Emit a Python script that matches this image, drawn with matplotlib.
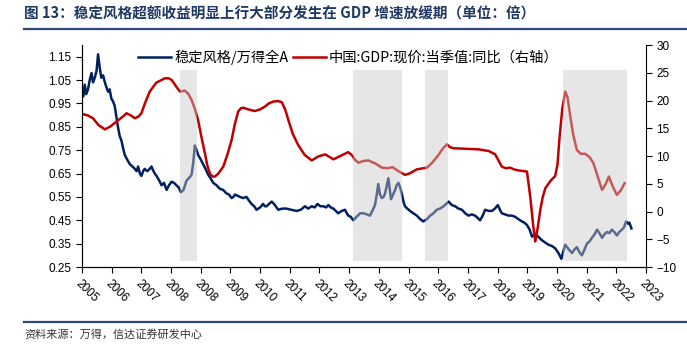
import matplotlib
matplotlib.use("Agg")
import matplotlib.pyplot as plt
import numpy as np

plt.rcParams["font.family"] = ["Noto Sans CJK SC", "DejaVu Sans"]

TITLE = "图 13：稳定风格超额收益明显上行大部分发生在 GDP 增速放缓期（单位：倍）"
SOURCE = "资料来源：万得，信达证券研发中心"

year_labels = ["2005", "2006", "2007", "2008", "2008", "2009", "2010", "2011",
               "2012", "2013", "2014", "2015", "2016", "2017", "2018", "2019",
               "2020", "2021", "2022", "2023"]

# x positions are in units of one date-axis tick interval
style_t = [0.00, 0.04, 0.09, 0.14, 0.20, 0.26, 0.32, 0.37, 0.43, 0.49,
           0.54, 0.60, 0.65, 0.71, 0.77, 0.82, 0.88, 0.93, 0.99, 1.04,
           1.10, 1.15, 1.21, 1.27, 1.33, 1.38, 1.44, 1.52, 1.61, 1.70,
           1.78, 1.84, 1.89, 1.95, 2.00, 2.06, 2.11, 2.20, 2.28, 2.34,
           2.39, 2.45, 2.51, 2.60, 2.68, 2.76, 2.85, 2.93, 3.02, 3.10,
           3.18, 3.26, 3.33, 3.42, 3.52, 3.60, 3.69, 3.75, 3.80, 3.86,
           3.91, 4.00, 4.08, 4.16, 4.25, 4.33, 4.42, 4.53, 4.64, 4.75,
           4.87, 4.95, 5.04, 5.10, 5.15, 5.24, 5.32, 5.43, 5.54, 5.62,
           5.71, 5.80, 5.88, 6.00, 6.10, 6.16, 6.22, 6.30, 6.39, 6.50,
           6.61, 6.75, 6.89, 7.05, 7.23, 7.37, 7.51, 7.62, 7.74, 7.84,
           7.93, 8.03, 8.13, 8.22, 8.30, 8.38, 8.47, 8.55, 8.63, 8.75,
           8.86, 8.92, 8.97, 9.05, 9.14, 9.25, 9.37, 9.48, 9.60, 9.70,
           9.78, 9.87, 9.93, 9.98, 10.04, 10.10, 10.16, 10.21, 10.27, 10.32,
           10.37, 10.41, 10.48, 10.55, 10.60, 10.66, 10.72, 10.77, 10.83, 10.88,
           10.96, 11.05, 11.16, 11.28, 11.39, 11.50, 11.62, 11.73, 11.84, 11.95,
           12.06, 12.18, 12.27, 12.35, 12.46, 12.57, 12.68, 12.80, 12.91, 13.02,
           13.13, 13.24, 13.33, 13.41, 13.50, 13.58, 13.70, 13.81, 13.91, 14.01,
           14.08, 14.14, 14.25, 14.37, 14.48, 14.59, 14.70, 14.82, 14.90, 14.99,
           15.08, 15.16, 15.25, 15.33, 15.41, 15.49, 15.60, 15.72, 15.83, 15.94,
           16.05, 16.15, 16.22, 16.28, 16.40, 16.51, 16.59, 16.67, 16.75, 16.84,
           16.93, 17.01, 17.10, 17.18, 17.27, 17.35, 17.43, 17.52, 17.60, 17.69,
           17.77, 17.85, 17.93, 18.02, 18.10, 18.19, 18.26, 18.33, 18.40, 18.44,
           18.51]
style_ratio = [1.00, 0.98, 1.03, 0.99, 1.01, 1.05, 1.08, 1.04, 1.06, 1.09,
               1.16, 1.10, 1.06, 1.07, 1.04, 1.02, 1.00, 1.01, 0.97, 0.96,
               0.94, 0.90, 0.85, 0.81, 0.79, 0.76, 0.73, 0.71, 0.69, 0.68,
               0.67, 0.66, 0.68, 0.65, 0.64, 0.66, 0.67, 0.66, 0.67, 0.68,
               0.665, 0.65, 0.64, 0.62, 0.60, 0.61, 0.58, 0.60, 0.615, 0.61,
               0.60, 0.59, 0.57, 0.58, 0.62, 0.63, 0.645, 0.70, 0.77, 0.75,
               0.73, 0.71, 0.69, 0.67, 0.645, 0.63, 0.61, 0.60, 0.585, 0.58,
               0.565, 0.56, 0.545, 0.55, 0.56, 0.555, 0.55, 0.545, 0.55, 0.535,
               0.52, 0.51, 0.495, 0.505, 0.52, 0.51, 0.51, 0.52, 0.53, 0.515,
               0.495, 0.50, 0.50, 0.495, 0.49, 0.495, 0.51, 0.50, 0.51, 0.505,
               0.52, 0.51, 0.51, 0.505, 0.515, 0.505, 0.50, 0.49, 0.48, 0.49,
               0.495, 0.48, 0.47, 0.465, 0.45, 0.465, 0.48, 0.48, 0.475, 0.47,
               0.49, 0.515, 0.56, 0.605, 0.56, 0.545, 0.55, 0.565, 0.60, 0.63,
               0.58, 0.54, 0.56, 0.58, 0.60, 0.61, 0.59, 0.565, 0.53, 0.51,
               0.50, 0.49, 0.48, 0.47, 0.455, 0.445, 0.455, 0.47, 0.48, 0.495,
               0.50, 0.51, 0.52, 0.53, 0.515, 0.51, 0.50, 0.495, 0.48, 0.47,
               0.475, 0.47, 0.46, 0.45, 0.47, 0.495, 0.49, 0.49, 0.50, 0.515,
               0.495, 0.48, 0.475, 0.47, 0.47, 0.465, 0.455, 0.445, 0.44, 0.43,
               0.41, 0.38, 0.39, 0.385, 0.375, 0.365, 0.355, 0.345, 0.34, 0.33,
               0.31, 0.285, 0.32, 0.345, 0.325, 0.31, 0.325, 0.335, 0.315, 0.30,
               0.325, 0.35, 0.36, 0.375, 0.39, 0.41, 0.395, 0.375, 0.39, 0.40,
               0.395, 0.41, 0.40, 0.385, 0.40, 0.41, 0.42, 0.445, 0.435, 0.44,
               0.415]

gdp_t = [0.00, 0.20, 0.37, 0.55, 0.77, 0.95, 1.16, 1.35, 1.50, 1.65,
         1.78, 1.90, 2.00, 2.12, 2.28, 2.50, 2.79, 2.92, 3.02, 3.15,
         3.30, 3.46, 3.58, 3.69, 3.80, 3.91, 4.02, 4.14, 4.22, 4.31,
         4.40, 4.48, 4.60, 4.76, 4.90, 5.04, 5.15, 5.26, 5.35, 5.43,
         5.60, 5.82, 6.00, 6.16, 6.30, 6.44, 6.60, 6.73, 6.85, 6.95,
         7.10, 7.28, 7.50, 7.74, 7.95, 8.19, 8.35, 8.47, 8.70, 8.97,
         9.10, 9.20, 9.31, 9.48, 9.65, 9.90, 10.10, 10.30, 10.46, 10.65,
         10.88, 11.05, 11.28, 11.62, 11.80, 12.01, 12.15, 12.29, 12.40, 12.51,
         13.36, 13.70, 13.92, 14.03, 14.14, 14.27, 14.42, 14.55, 14.71, 14.99,
         15.10, 15.20, 15.27, 15.35, 15.44, 15.52, 15.61, 15.78, 15.94, 16.02,
         16.08, 16.18, 16.28, 16.36, 16.45, 16.55, 16.67, 16.80, 16.95, 17.10,
         17.23, 17.38, 17.52, 17.63, 17.75, 17.88, 18.02, 18.15, 18.28]
gdp_yoy = [17.6, 17.3, 16.8, 15.6, 14.8, 15.3, 16.2, 17.0, 17.7, 17.3,
           16.8, 17.1, 17.7, 19.5, 21.6, 23.2, 24.0, 24.0, 23.7, 22.7,
           21.6, 21.8, 21.2, 20.1, 18.5, 16.5, 13.5, 10.5, 8.3, 6.8,
           6.3, 6.3, 6.9, 8.1, 10.3, 12.9, 15.8, 18.0, 18.6, 18.7,
           18.4, 18.1, 18.4, 18.9, 19.5, 19.8, 19.9, 19.7, 18.3, 16.5,
           14.0, 12.0, 10.2, 9.2, 9.9, 10.3, 9.8, 9.4, 10.0, 10.7,
           10.1, 9.3, 8.8, 9.1, 9.2, 8.6, 7.9, 7.8, 8.0, 7.3,
           6.6, 6.9, 7.6, 7.9, 8.8, 10.2, 11.3, 12.1, 11.6, 11.4,
           11.2, 10.9, 10.3, 9.2, 8.1, 7.8, 7.9, 7.6, 7.4, 7.2,
           2.7, -2.5, -5.4, -3.0, 0.3, 2.6, 4.2, 5.5, 6.4, 8.5,
           12.9, 18.5, 21.6, 20.5, 17.1, 13.8, 11.1, 10.4, 10.4, 9.8,
           8.7, 6.2, 3.9, 4.8, 6.3, 4.5, 3.0, 3.8, 5.1]

slow_periods = [(3.30, 3.88), (9.14, 10.77), (11.56, 12.32), (16.19, 18.36)]

BLUE = "#002060"
RED = "#c00000"
NAVY = "#1f3864"

fig = plt.figure(figsize=(6.87, 3.47), dpi=100)
ax = fig.add_axes([0.1194, 0.2305, 0.8209, 0.6398])
ax2 = ax.twinx()

l1, = ax.plot(style_t, style_ratio, color=BLUE, lw=1.8, label="稳定风格/万得全A")
l2, = ax2.plot(gdp_t, gdp_yoy, color=RED, lw=1.8, label="中国:GDP:现价:当季值:同比（右轴）", zorder=2)

for x0, x1 in slow_periods:
    ax2.fill_between([x0, x1], -9.0, 25.5, color="#c8c8c8", alpha=0.45,
                     lw=0, zorder=3)

ax.set_xlim(0, 19)
ax.set_ylim(0.25, 1.20)
ax2.set_ylim(-10, 30)
ax.set_yticks(np.arange(0.25, 1.16, 0.1))
ax.yaxis.set_major_formatter(matplotlib.ticker.FormatStrFormatter("%.2f"))
ax2.set_yticks(np.arange(-10, 31, 5))
ax.set_xticks(np.arange(len(year_labels)))
ax.set_xticklabels(year_labels, rotation=-45, ha="left", va="top",
                   rotation_mode="anchor", family="Liberation Sans", fontsize=8.5)

for a in (ax, ax2):
    a.spines["top"].set_visible(False)
    a.tick_params(labelsize=8.5, length=4, width=0.8)
    for lab in a.get_yticklabels():
        lab.set_family("Liberation Sans")
ax.spines["right"].set_visible(False)
ax.tick_params(axis="x", pad=4)

leg = ax2.legend(handles=[l1, l2], loc="center left", bbox_to_anchor=(0.1, 0.946),
                 ncol=2, frameon=False, fontsize=10.3, handlelength=2.3,
                 handletextpad=0.2, columnspacing=0.3, borderpad=0, borderaxespad=0)
leg.set_zorder(10)

fig.text(24 / 687, 1 - 14 / 347, TITLE, fontsize=10.5, fontweight="bold",
         color=NAVY, va="center", ha="left")
fig.add_artist(plt.Line2D([24 / 687, 1], [1 - 29 / 347] * 2, color="#2f4a7a", lw=1.6))
fig.add_artist(plt.Line2D([24 / 687, 1], [1 - 322 / 347] * 2, color="#2f4a7a", lw=1.6))
fig.text(24 / 687, 1 - 334 / 347, SOURCE, fontsize=8, color="#333333",
         va="center", ha="left", style="italic")

fig.savefig("out.png", dpi=100)
